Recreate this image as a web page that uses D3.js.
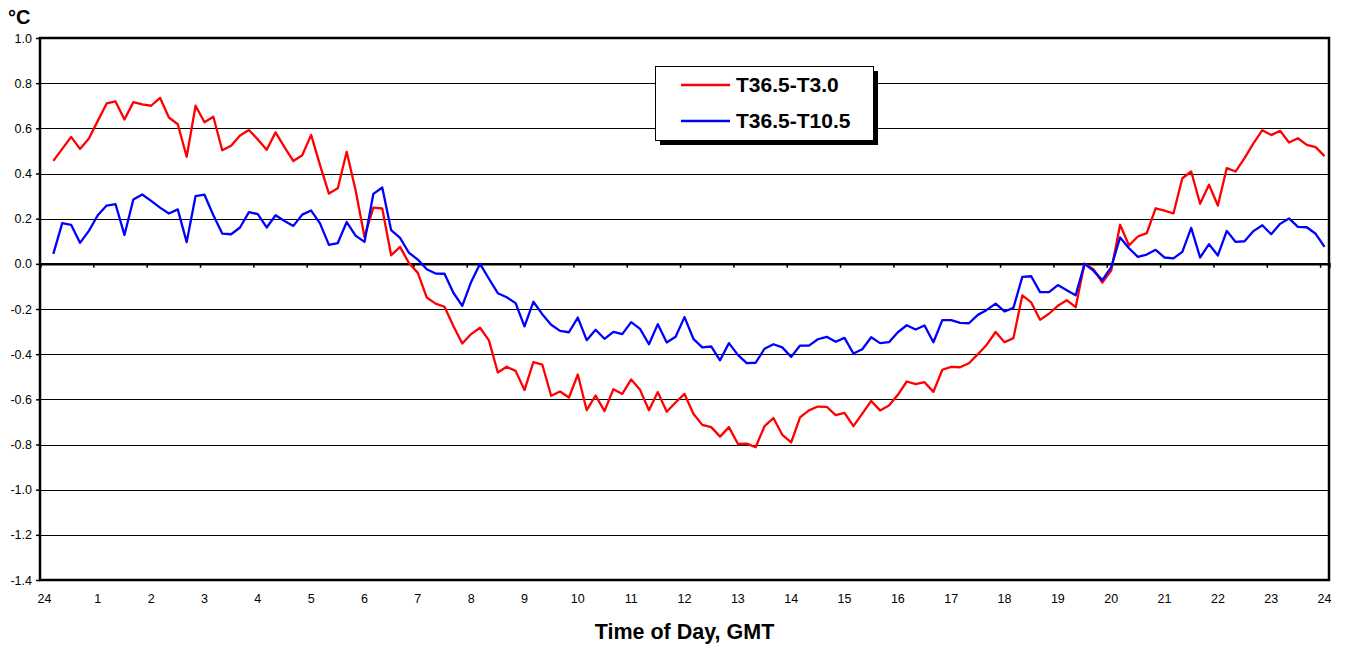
<!DOCTYPE html>
<html>
<head>
<meta charset="utf-8">
<script src="https://cdn.jsdelivr.net/npm/d3@7"></script>
<style>
  body { margin: 0; background: #fff; }
  text { font-family: "Liberation Sans", Arial, sans-serif; }
</style>
</head>
<body>
<div class="graphContainer"></div>
<script>
// hour labels sit on every 6th ten-minute slot, slot 0 is midnight (no reading)
const hourLabels = ["24", "1", "2", "3", "4", "5", "6", "7", "8", "9", "10", "11", "12",
  "13", "14", "15", "16", "17", "18", "19", "20", "21", "22", "23", "24"];

const yTicks = [1.0, 0.8, 0.6, 0.4, 0.2, 0.0, -0.2, -0.4, -0.6, -0.8, -1.0, -1.2, -1.4];

// T36.5 - T3.0, one value per 10 minutes from 00:10 to 24:00
const t3 = [
  0.456, 0.509, 0.562, 0.509, 0.555, 0.633, 0.710, 0.719, 0.639, 0.716, 0.706, 0.700,
  0.735, 0.648, 0.618, 0.474, 0.700, 0.627, 0.651, 0.503, 0.523, 0.568, 0.593, 0.551,
  0.505, 0.582, 0.517, 0.455, 0.481, 0.571, 0.437, 0.311, 0.335, 0.496, 0.326, 0.120,
  0.249, 0.245, 0.038, 0.075, 0.004, -0.040, -0.149, -0.176, -0.190, -0.275, -0.353, -0.311,
  -0.283, -0.339, -0.481, -0.456, -0.474, -0.559, -0.435, -0.446, -0.584, -0.565, -0.592, -0.490,
  -0.648, -0.583, -0.652, -0.555, -0.576, -0.512, -0.558, -0.648, -0.568, -0.655, -0.614, -0.576,
  -0.664, -0.713, -0.723, -0.765, -0.723, -0.797, -0.796, -0.812, -0.719, -0.683, -0.757, -0.791,
  -0.680, -0.649, -0.632, -0.633, -0.670, -0.660, -0.719, -0.663, -0.607, -0.649, -0.627, -0.580,
  -0.521, -0.533, -0.524, -0.567, -0.469, -0.456, -0.458, -0.440, -0.400, -0.358, -0.302, -0.347,
  -0.329, -0.140, -0.171, -0.248, -0.221, -0.186, -0.161, -0.192, 0.001, -0.024, -0.083, -0.030,
  0.173, 0.081, 0.121, 0.136, 0.246, 0.236, 0.223, 0.379, 0.409, 0.266, 0.350, 0.258,
  0.424, 0.409, 0.468, 0.533, 0.592, 0.570, 0.589, 0.537, 0.556, 0.527, 0.517, 0.477
];

// T36.5 - T10.5
const t10 = [
  0.044, 0.180, 0.173, 0.093, 0.146, 0.215, 0.258, 0.264, 0.128, 0.285, 0.307, 0.279,
  0.249, 0.223, 0.241, 0.096, 0.300, 0.306, 0.215, 0.134, 0.131, 0.161, 0.229, 0.220,
  0.161, 0.215, 0.190, 0.168, 0.218, 0.236, 0.179, 0.084, 0.092, 0.185, 0.125, 0.097,
  0.310, 0.338, 0.149, 0.115, 0.049, 0.019, -0.024, -0.043, -0.044, -0.128, -0.186, -0.080,
  0.000, -0.066, -0.130, -0.148, -0.174, -0.277, -0.168, -0.223, -0.270, -0.297, -0.303, -0.238,
  -0.338, -0.292, -0.332, -0.301, -0.311, -0.258, -0.288, -0.356, -0.267, -0.348, -0.323, -0.236,
  -0.332, -0.370, -0.366, -0.427, -0.351, -0.403, -0.440, -0.438, -0.376, -0.356, -0.370, -0.412,
  -0.362, -0.362, -0.334, -0.323, -0.345, -0.328, -0.397, -0.378, -0.325, -0.351, -0.347, -0.303,
  -0.272, -0.291, -0.273, -0.347, -0.249, -0.249, -0.261, -0.263, -0.226, -0.204, -0.176, -0.211,
  -0.195, -0.058, -0.055, -0.125, -0.125, -0.094, -0.117, -0.139, 0.000, -0.030, -0.072, -0.015,
  0.117, 0.069, 0.031, 0.041, 0.062, 0.028, 0.024, 0.053, 0.159, 0.028, 0.087, 0.037,
  0.146, 0.097, 0.100, 0.145, 0.171, 0.131, 0.177, 0.201, 0.164, 0.162, 0.133, 0.075
];

const seriesNames = ["T36.5-T3.0", "T36.5-T10.5"];
const seriesColors = ["#ff0000", "#0000ff"];

function drawChart() {
  const w = 1346,
    h = 648,
    left = 40,
    right = 1329,
    top = 38,
    bottom = 580;

  const slotCount = t3.length + 1;

  const x = d3.scaleBand()
    .domain(d3.range(slotCount))
    .range([left, right])
    .paddingInner(0)
    .paddingOuter(0);

  // same range, used for the tick marks between slots
  const xEdge = d3.scaleLinear()
    .domain([0, slotCount])
    .range([left, right]);

  const y = d3.scaleLinear()
    .domain([-1.4, 1.0])
    .range([bottom, top]);

  const canvas = d3.select(".graphContainer")
    .append("svg")
    .attr("width", w)
    .attr("height", h);

  // horizontal gridlines
  canvas.append("g")
    .selectAll("line")
    .data(yTicks)
    .enter()
    .append("line")
    .attr("x1", left)
    .attr("x2", right)
    .attr("y1", function (d) { return Math.round(y(d)) + 0.5; })
    .attr("y2", function (d) { return Math.round(y(d)) + 0.5; })
    .attr("stroke", "#000")
    .attr("stroke-width", 1);

  // y axis
  const yAxis = d3.axisLeft(y)
    .tickValues(yTicks)
    .tickSize(4)
    .tickPadding(4)
    .tickFormat(function (d) { return d.toFixed(1); });

  const gy = canvas.append("g")
    .attr("transform", "translate(" + left + ",0)")
    .call(yAxis);
  gy.select(".domain").remove();
  gy.selectAll("text")
    .attr("font-size", "12.5px")
    .attr("fill", "#000");
  gy.selectAll("line").attr("stroke-width", 1.5);

  // hour labels below the plot
  const xAxis = d3.axisBottom(x)
    .tickValues(d3.range(0, slotCount, 6))
    .tickSize(0)
    .tickPadding(14)
    .tickFormat(function (d, i) { return hourLabels[i]; });

  const gx = canvas.append("g")
    .attr("transform", "translate(0," + bottom + ")")
    .call(xAxis);
  gx.select(".domain").remove();
  gx.selectAll("text")
    .attr("font-size", "12.5px")
    .attr("fill", "#000");

  // category axis crossing at zero, ticks every hour
  const zeroAxis = d3.axisBottom(xEdge)
    .tickValues(d3.range(6, slotCount, 6))
    .tickSize(4)
    .tickFormat("");

  const gz = canvas.append("g")
    .attr("transform", "translate(0," + y(0) + ")")
    .call(zeroAxis);
  gz.select(".domain")
    .attr("stroke-width", 2.5);
  gz.selectAll("line").attr("stroke-width", 1.5);

  // plot frame
  canvas.append("rect")
    .attr("x", left)
    .attr("y", top)
    .attr("width", right - left)
    .attr("height", bottom - top)
    .attr("fill", "none")
    .attr("stroke", "#000")
    .attr("stroke-width", 2.5);

  const line = d3.line()
    .defined(function (d) { return d != null; })
    .x(function (d, i) { return x(i + 1) + x.bandwidth() / 2; })
    .y(function (d) { return y(d); });

  [t3, t10].forEach(function (series, k) {
    canvas.append("path")
      .datum(series)
      .attr("fill", "none")
      .attr("stroke", seriesColors[k])
      .attr("stroke-width", 2.3)
      .attr("stroke-linejoin", "round")
      .attr("d", line);
  });

  // legend
  const legend = canvas.append("g")
    .attr("transform", "translate(655,66)");

  legend.append("rect")
    .attr("x", 5)
    .attr("y", 5)
    .attr("width", 218)
    .attr("height", 74)
    .attr("fill", "#000");

  legend.append("rect")
    .attr("x", 0.5)
    .attr("y", 0.5)
    .attr("width", 218)
    .attr("height", 74)
    .attr("fill", "#fff")
    .attr("stroke", "#000")
    .attr("stroke-width", 1);

  const items = legend.selectAll(".item")
    .data(seriesNames)
    .enter()
    .append("g")
    .attr("class", "item")
    .attr("transform", function (d, i) { return "translate(0," + (19 + i * 36) + ")"; });

  items.append("line")
    .attr("x1", 26)
    .attr("x2", 75)
    .attr("stroke", function (d, i) { return seriesColors[i]; })
    .attr("stroke-width", 2.3);

  items.append("text")
    .attr("x", 81)
    .attr("y", 7)
    .attr("font-size", "21px")
    .attr("font-weight", "bold")
    .text(function (d) { return d; });

  // unit label and axis title
  canvas.append("text")
    .attr("x", 8)
    .attr("y", 24)
    .attr("font-size", "20px")
    .attr("font-weight", "bold")
    .text("°C");

  canvas.append("text")
    .attr("x", (left + right) / 2)
    .attr("y", 639)
    .attr("text-anchor", "middle")
    .attr("font-size", "21.5px")
    .attr("font-weight", "bold")
    .text("Time of Day, GMT");
}

drawChart();
</script>
</body>
</html>
